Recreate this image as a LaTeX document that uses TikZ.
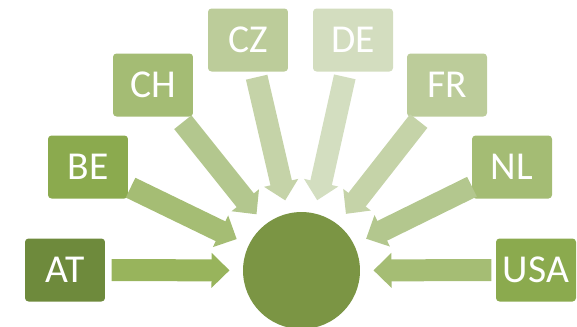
\documentclass[tikz,border=0pt]{standalone}
\usepackage{fontspec}
\setmainfont{Carlito}
\usetikzlibrary{arrows.meta, calc}

\definecolor{boxA}{HTML}{6E8A3C}
\definecolor{boxB}{HTML}{8BAA4E}
\definecolor{boxC}{HTML}{A4BC74}
\definecolor{boxD}{HTML}{BCCC9A}
\definecolor{boxE}{HTML}{D3DDBF}
\definecolor{flowA}{HTML}{98B45C}
\definecolor{flowB}{HTML}{A5BD74}
\definecolor{flowC}{HTML}{B3C78E}
\definecolor{flowD}{HTML}{C5D3A8}
\definecolor{flowE}{HTML}{D3DEC0}
\definecolor{hubcol}{HTML}{7B9544}

\begin{document}
\begin{tikzpicture}[x=0.02cm, y=-0.02cm,
    country/.style={fill=#1, rounded corners=2pt, minimum width=1.6cm, minimum height=1.26cm,
        text=white, font=\fontsize{22.5}{26}\selectfont, inner sep=0pt},
    flow/.style={draw=#1, line width=0.44cm, -{Triangle[length=0.36cm, width=0.68cm]}}]
    \useasboundingbox (0,0) rectangle (577,326);
    \clip (0,0) rectangle (577,326);

    \node[circle, fill=hubcol, minimum size=2.34cm, inner sep=0pt] (hub) at (301.5,270.5) {};

    \node[country=boxA]  (AT)  at (65,270)  {AT};
    \node[country=boxB]  (BE)  at (88,167)  {BE};
    \node[country=boxC]  (CH)  at (153,85)  {CH};
    \node[country=boxD]  (CZ)  at (248,40)  {CZ};
    \node[country=boxE]  (DE)  at (353,40)  {DE};
    \node[country=boxD]  (FR)  at (447,85)  {FR};
    \node[country=boxC]  (NL)  at (512,167) {NL};
    \node[country=boxB]  (USA) at (536,270) {USA};

    % arrows end 72px off the hub centre
    \foreach \c/\col/\len in {AT/flowA/3.8cm, BE/flowB/3.8cm, CH/flowC/3.8cm, CZ/flowD/3.97cm,
                              DE/flowE/3.97cm, FR/flowD/3.8cm, NL/flowC/3.8cm, USA/flowB/3.8cm}
        \draw[flow=\col] ($(hub)!\len!(\c)$) -- ($(hub)!1.44cm!(\c)$);
\end{tikzpicture}
\end{document}
